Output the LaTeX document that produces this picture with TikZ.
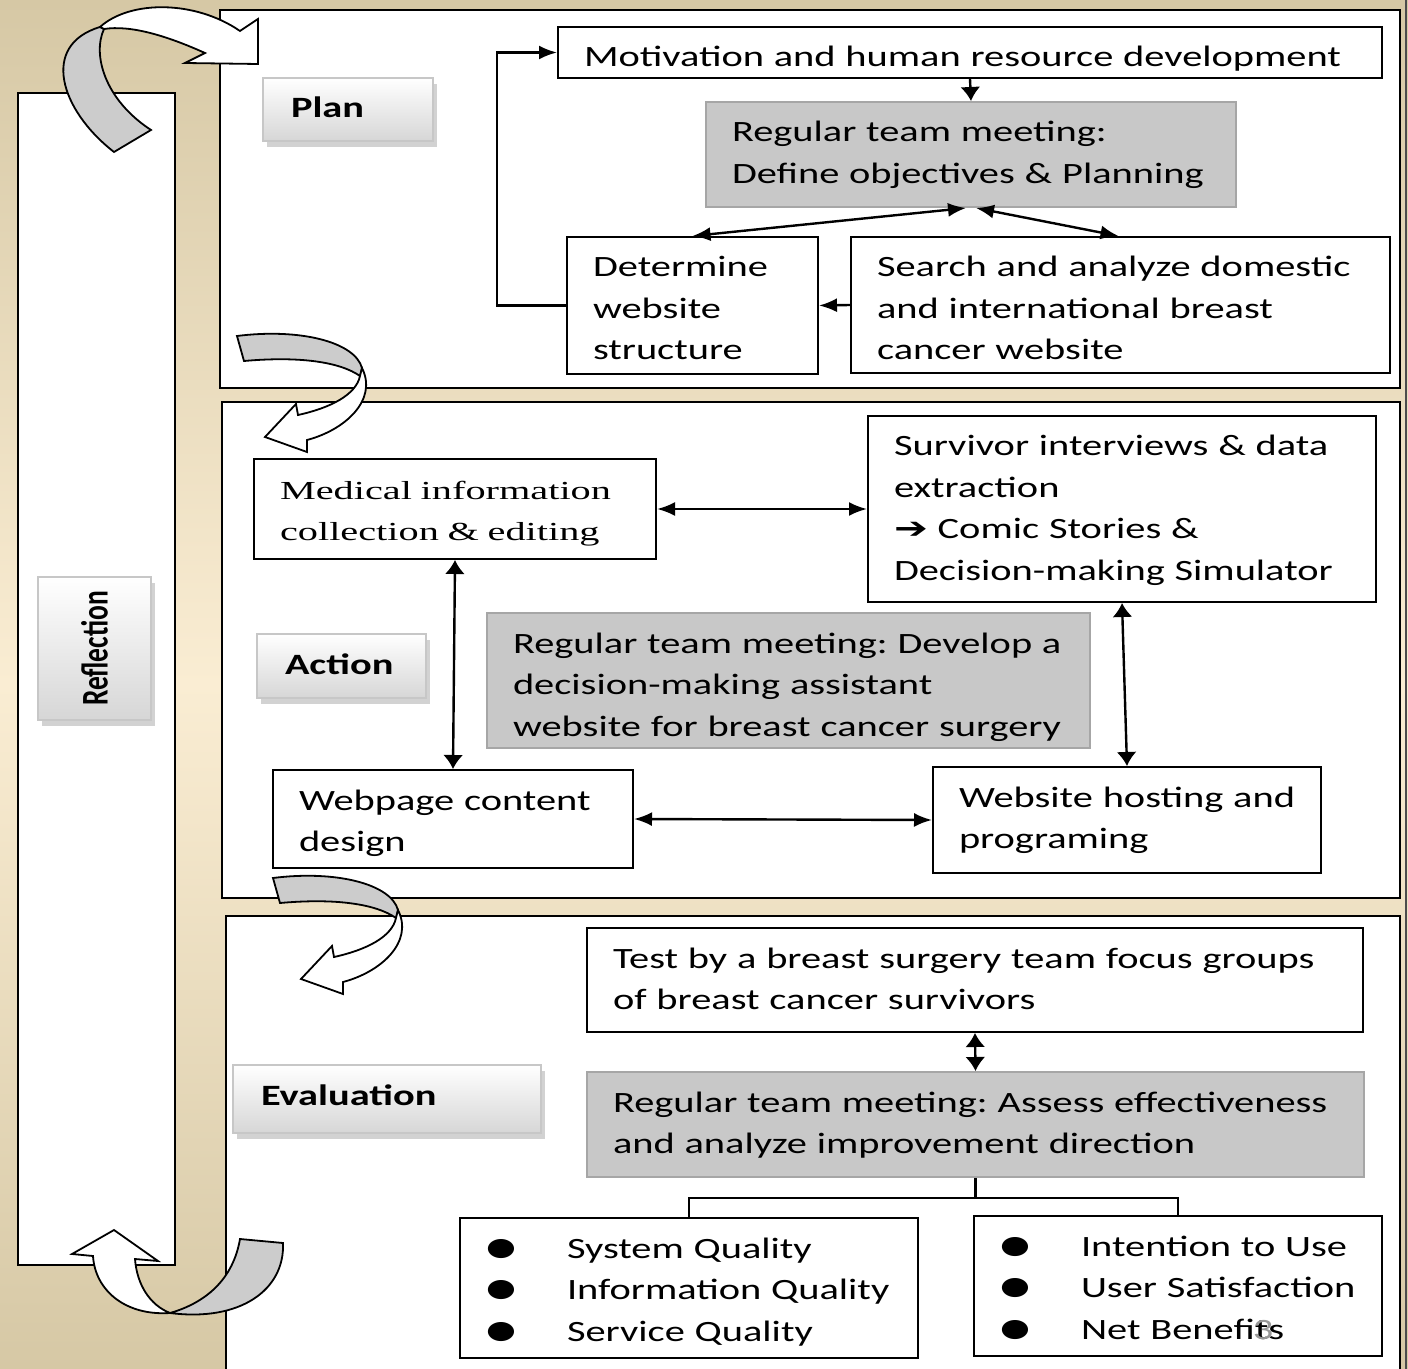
\documentclass[tikz,border=0pt]{standalone}
\usepackage{fontspec}
\setmainfont{Carlito}[FakeStretch=1.37]
\newfontfamily\serifwide{Liberation Serif}[FakeStretch=1.55]
\newfontfamily\symwide{DejaVu Sans}[FakeStretch=1.37]
\newfontfamily\plainfont{Carlito}
\usetikzlibrary{arrows.meta,shadows}
\frenchspacing

\definecolor{tandark}{RGB}{214,200,165}
\definecolor{tanlight}{RGB}{250,237,211}
\definecolor{meetgray}{RGB}{200,200,200}
\definecolor{foldgray}{RGB}{204,204,204}

\newcommand{\blt}{\makebox[37.5pt][l]{\hspace*{-3pt}\raisebox{1.5pt}{\fontsize{12.5}{12.5}\symwide ●}}}
\newcommand{\bendarrow}[2]{%
	\begin{scope}[shift={(#1,#2)}]
		\filldraw[fold] (237,336) .. controls (300,328) and (355,342) .. (362,368) -- (360,376) .. controls (340,362) and (300,356) .. (244,361) -- cycle;
		\filldraw[face] (362,368) .. controls (378,400) and (345,430) .. (307,440) -- (307,452) -- (265,437) -- (296,404) -- (298,415) .. controls (330,408) and (356,395) .. (360,376) -- cycle;
	\end{scope}}

\tikzset{
	panel/.style={draw=black, line width=1pt, fill=white},
	fold/.style={draw=black, line width=0.9pt, fill=foldgray},
	face/.style={draw=black, line width=0.9pt, fill=white},
	stepbox/.style={draw=black, line width=1pt, fill=white, anchor=north west, inner xsep=6pt, inner ysep=0pt, align=left, text height=20pt, font=\fontsize{14.75}{20.75}\selectfont, execute at begin node={\leftskip=7pt\hyphenpenalty=10000\exhyphenpenalty=10000}},
	listbox/.style={stepbox, execute at begin node={\leftskip=10pt\hyphenpenalty=10000}},
	meetbox/.style={stepbox, fill=meetgray, draw=black!35},
	phasebase/.style={draw=black!22, line width=1pt, top color=white, bottom color=black!16, drop shadow={shadow xshift=2.2pt, shadow yshift=-3pt, fill=black!35}},
	phase/.style={phasebase, anchor=north west, inner xsep=14pt, inner ysep=0pt, align=left, text height=20pt, font=\fontsize{14.75}{20.75}\selectfont\bfseries},
	hlink/.style={line width=1.2pt, {Latex[length=9pt,width=7pt]}-{Latex[length=9pt,width=7pt]}},
	vlink/.style={line width=1.2pt, {Latex[length=7pt,width=10pt]}-{Latex[length=7pt,width=10pt]}},
	hto/.style={line width=1.2pt, -{Latex[length=9pt,width=7pt]}},
	vto/.style={line width=1.2pt, -{Latex[length=7pt,width=10pt]}},
	tree/.style={line width=1.1pt}
}

\begin{document}
\begin{tikzpicture}[x=0.5pt, y=-0.5pt]
	\useasboundingbox (0,0) rectangle (1408,1369);
	\shade[top color=tandark, bottom color=tandark, middle color=tanlight] (0,0) rectangle (1408,1369);
	\draw[black!70, line width=1pt] (1406,0) -- (1406,1369);
	
	% panels
	\draw[panel] (220,10) rectangle (1400,388);
	\draw[panel] (222,402) rectangle (1400,898);
	\draw[panel] (226,916) rectangle (1400,1380);
	\draw[panel] (18,93) rectangle (175,1265);
	
	% curved arrows
	\filldraw[fold] (114,152) .. controls (60,110) and (40,45) .. (100,27) -- (104,29) .. controls (92,55) and (105,100) .. (151,130) -- cycle;
	\filldraw[face] (100,27) .. controls (130,0) and (195,0) .. (240,31) -- (258,19) -- (258,64) -- (185,63) -- (205,53) .. controls (165,35) and (130,25) .. (104,29) -- cycle;
	\bendarrow{0}{0}
	\bendarrow{36}{542}
	\filldraw[face] (170,1313) .. controls (125,1316) and (95,1290) .. (93,1256) -- (72,1254) -- (114,1230) -- (158,1261) -- (135,1259) .. controls (137,1285) and (150,1305) .. (170,1313) -- cycle;
	\filldraw[fold] (240,1239) -- (283,1243) .. controls (285,1290) and (240,1322) .. (170,1313) .. controls (205,1303) and (233,1280) .. (240,1239) -- cycle;
	
	% phase labels
	\node[phasebase, minimum width=56.5pt, minimum height=71.5pt, font=\fontsize{13.75}{16}\selectfont] (refl) at (94.5,648.5) {\rotatebox{90}{\scalebox{1}[1.37]{\plainfont\bfseries Reflection}}};
	\node[phase, text width=57pt, text depth=11.5pt] (plan) at (262,77) {\mbox{Plan}};
	\node[phase, text width=56.5pt, text depth=12pt] (action) at (256,633) {\mbox{Action}};
	\node[phase, text width=126pt, text depth=14pt] (evalu) at (232,1064) {\mbox{Evaluation}};
	
	% plan
	\node[stepbox, text width=400pt, text depth=5.5pt] (mot) at (557,26) {Motivation and human resource development};
	\node[meetbox, text width=253pt, text depth=32.5pt] (plmeet) at (705,101) {Regular team meeting:\\Define objectives \& Planning};
	\node[stepbox, text width=113.5pt, text depth=48.5pt] (det) at (566,236) {Determine\\website\\structure};
	\node[stepbox, text width=257.5pt, text depth=48pt] (srch) at (850,236) {Search and analyze domestic\\and international breast\\cancer website};
	
	\draw[vto] (mot.south) -- (plmeet.north);
	\draw[hlink] ([xshift=-2.5pt]plmeet.south) -- (det.north);
	\draw[hlink] ([xshift=2.5pt]plmeet.south) -- ([xshift=-1pt]srch.north);
	\draw[hto] (srch.west) -- (det.east);
	\draw[hto] (det.west) -- ++(-69,0) |- (mot.west);
	
	% action
	\node[stepbox, text width=189pt, text depth=30pt, font=\fontsize{13}{20.75}\serifwide] (med) at (253,458) {Medical information\\collection \& editing};
	\node[stepbox, text width=242pt, text depth=73pt] (surv) at (867,415) {Survivor interviews \& data\\extraction\\{\symwide\bfseries ➔} Comic Stories \&\\Decision-making Simulator};
	\node[meetbox, text width=289.5pt, text depth=47.5pt] (acmeet) at (486,612) {Regular team meeting: Develop a\\decision-making assistant\\website for breast cancer surgery};
	\node[stepbox, text width=168pt, text depth=29pt] (webd) at (272,769) {Webpage content\\design};
	\node[stepbox, text width=182pt, text depth=33pt] (host) at (932,766) {Website hosting and\\programing};
	
	\draw[hlink] (med.east) -- (surv.west);
	\draw[vlink] (med.south) -- (webd.north);
	\draw[vlink] (surv.south) -- (host.north);
	\draw[hlink] (webd.east) -- (host.west);
	
	% evaluation
	\node[stepbox, text width=376pt, text depth=32pt] (test) at (586,927) {Test by a breast surgery team focus groups\\of breast cancer survivors};
	\node[meetbox, text width=376.5pt, text depth=32.5pt] (evmeet) at (586,1071) {Regular team meeting: Assess effectiveness\\and analyze improvement direction};
	\node[listbox, text width=217pt, text depth=50pt] (sysq) at (459,1217) {\blt System Quality\\\blt Information Quality\\\blt Service Quality};
	\node[listbox, text width=192pt, text depth=50pt] (usrq) at (973,1215) {\blt Intention to Use\\\blt User Satisfaction\\\blt Net Benefits};
	\node[text=black!40, font=\fontsize{14.75}{18}\selectfont, inner sep=0pt] (slideno) at (1263,1330) {3};
	
	\draw[vlink] (test.south) -- (evmeet.north);
	\draw[tree] (evmeet.south) -- ++(0,20) coordinate (fork);
	\draw[tree] (sysq.north) |- (fork) -| (usrq.north);
\end{tikzpicture}
\end{document}
